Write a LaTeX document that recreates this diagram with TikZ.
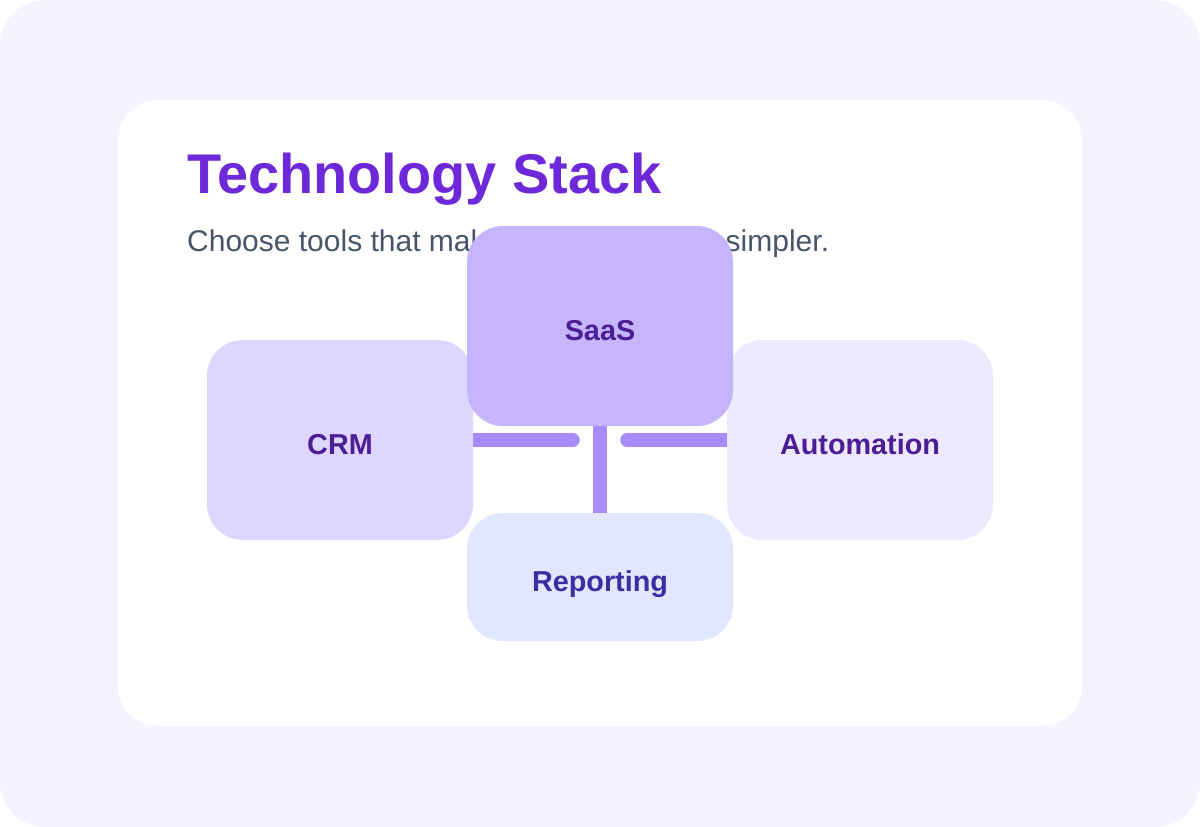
\documentclass[tikz,border=0pt]{standalone}
\usepackage{fontspec}
\setmainfont{Liberation Sans}
\usetikzlibrary{backgrounds}

\definecolor{pagebg}{HTML}{F5F3FF}
\definecolor{titlecol}{HTML}{6D28D9}
\definecolor{subcol}{HTML}{475569}
\definecolor{linkcol}{HTML}{A78BFA}
\definecolor{saasfill}{HTML}{C4B5FD}
\definecolor{crmfill}{HTML}{DDD6FE}
\definecolor{autofill}{HTML}{EDE9FE}
\definecolor{repfill}{HTML}{E0E7FF}
\definecolor{labelcol}{HTML}{4C1D95}
\definecolor{replabel}{HTML}{3730A3}

\tikzset{
  stackbox/.style={rectangle, rounded corners=36pt, inner sep=0pt,
    minimum width=266pt, minimum height=200pt, text=labelcol,
    text height=28pt, text depth=0pt,
    font=\fontsize{28.8}{34}\selectfont\bfseries},
  link/.style={draw=linkcol, line width=13.5pt}
}

\begin{document}
\begin{tikzpicture}[x=1pt,y=-1pt]
                \useasboundingbox (0,0) rectangle (1200,827);

                \node[anchor=base west, inner sep=0pt, text=titlecol,
                  font=\fontsize{55.9}{66}\selectfont\bfseries] (title) at (187,193) {Technology Stack};
                \node[anchor=base west, inner sep=0pt, text=subcol,
                  font=\fontsize{30}{36}\selectfont] (subtitle) at (187,251) {Choose tools that make your operations simpler.};

                \node[stackbox, fill=crmfill] (crm) at (340,440) {CRM};
                \node[stackbox, fill=autofill] (auto) at (860,440) {Automation};
                \node[stackbox, fill=repfill, minimum height=128pt, text=replabel] (report) at (600,577) {Reporting};
                \node[stackbox, fill=saasfill] (saas) at (600,326) {SaaS};

                \coordinate (crmend) at (573,440);
                \coordinate (autoend) at (627,440);

                \begin{pgfonlayer}{background}
                \fill[pagebg, rounded corners=45pt] (0,0) rectangle (1200,827);
                \fill[white, rounded corners=40pt] (118,100) rectangle (1082,726);

                \draw[link, line cap=round] (crm.center) -- (crmend);
                \draw[link, line cap=round] (autoend) -- (auto.center);
                \draw[link, line width=14pt] (saas.center) -- (report.center);
                \end{pgfonlayer}
            \end{tikzpicture}
\end{document}
